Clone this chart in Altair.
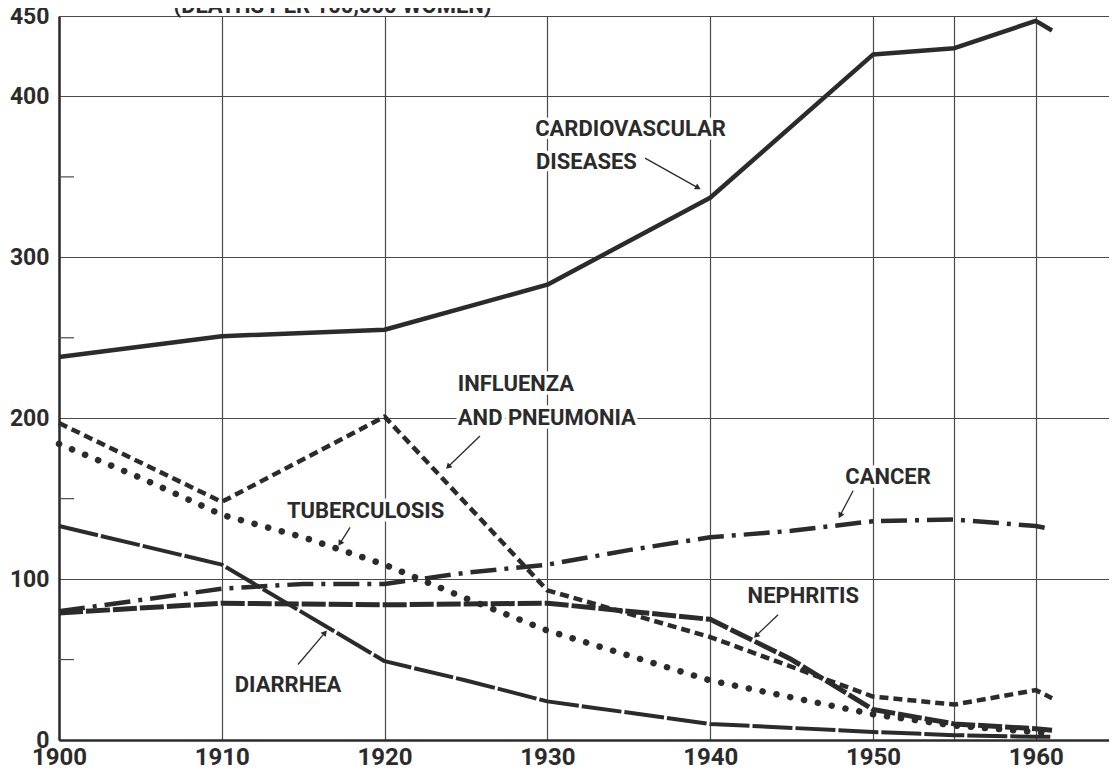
import math
import altair as alt
import pandas as pd

FONT = "Roboto, Liberation Sans, sans-serif"
INK = "#2b2b2b"
GRID = "#4a4a4a"

W, H = 1050, 724
X_DOMAIN = [1900, 1964.5]
Y_DOMAIN = [0, 450]

# ---- data (deaths per 100,000 women) ----
cardio_years = [1900, 1910, 1920, 1930, 1940, 1950, 1955, 1960, 1961]
cardio_vals = [238, 251, 255, 283, 337, 426, 430, 447, 441]

flu_years = [1900, 1910, 1920, 1930, 1940, 1950, 1955, 1960, 1961]
flu_vals = [197, 148, 201, 93, 64, 27, 22, 31, 26]

tb_years = [1900, 1905, 1910, 1915, 1920, 1925, 1930, 1940, 1950, 1955, 1960, 1961]
tb_vals = [184, 163, 140, 126, 109, 88, 68, 37, 16, 9, 5, 4]

diar_years = [1900, 1910, 1920, 1925, 1930, 1940, 1950, 1955, 1960, 1961]
diar_vals = [133, 109, 49, 37, 24, 10, 5, 3, 2, 2]

cancer_years = [1900, 1905, 1910, 1915, 1920, 1925, 1930, 1935, 1940, 1945, 1950, 1955, 1960, 1961]
cancer_vals = [80, 87, 94, 97, 97, 104, 109, 118, 126, 130, 136, 137, 133, 131]

neph_years = [1900, 1910, 1920, 1930, 1940, 1945, 1950, 1955, 1960, 1961]
neph_vals = [79, 85, 84, 85, 75, 50, 19, 10, 7, 6]

x_tick_values = [1900, 1910, 1920, 1930, 1940, 1950, 1955, 1960]
y_tick_values = [0, 100, 200, 300, 400, 450]
y_minor_values = [50, 150, 250, 350]

# annotation labels (anchor at left edge, vertical middle)
label_text = ["CARDIOVASCULAR", "DISEASES", "INFLUENZA", "AND PNEUMONIA",
              "TUBERCULOSIS", "DIARRHEA", "CANCER", "NEPHRITIS"]
label_year = [1929.25, 1929.3, 1924.5, 1924.5, 1914.0, 1910.8, 1948.3, 1942.3]
label_val = [379.5, 359.3, 221.0, 200.0, 142.6, 34.0, 163.6, 89.5]

# leader arrows: start -> end (arrowhead at end)
arrow_x1 = [1936.0, 1925.86, 1917.88, 1914.68, 1948.78, 1944.17]
arrow_y1 = [361.7, 188.9, 132.1, 46.9, 154.9, 77.8]
arrow_x2 = [1939.26, 1923.9, 1917.26, 1916.34, 1947.98, 1942.82]
arrow_y2 = [343.2, 169.8, 122.2, 66.7, 139.5, 64.8]

title_text = "(DEATHS PER 100,000 WOMEN)"

# ---- scales / axes ----
xscale = alt.Scale(domain=X_DOMAIN, nice=False, zero=False)
yscale = alt.Scale(domain=Y_DOMAIN, nice=False, zero=True)

x_axis = alt.Axis(values=x_tick_values, labelExpr="datum.value == 1955 ? '' : datum.label",
                  format="d", grid=True, gridColor=GRID, gridWidth=1.2, gridOpacity=1,
                  domain=True, domainColor=INK, domainWidth=2.5, ticks=False,
                  labelFont=FONT, labelFontSize=24, labelFontWeight="bold", labelColor=INK,
                  labelBaseline="alphabetic", labelPadding=24, labelFlush=False, title=None)
y_axis = alt.Axis(values=y_tick_values, format="d", grid=True, gridColor=GRID, gridWidth=1.2,
                  gridOpacity=1, domain=True, domainColor=INK, domainWidth=2.5, ticks=False,
                  labelFont=FONT, labelFontSize=23, labelFontWeight="bold", labelColor=INK,
                  labelPadding=10, labelFlush=False, title=None)


def X(field="year"):
    return alt.X(f"{field}:Q", scale=xscale, axis=x_axis)


def Y(field="value"):
    return alt.Y(f"{field}:Q", scale=yscale, axis=y_axis)


def series(years, vals, dash, width, cap="butt"):
    df = pd.DataFrame({"year": years, "value": vals})
    kw = dict(color=INK, strokeWidth=width, strokeCap=cap, strokeJoin="round", clip=False)
    if dash:
        kw["strokeDash"] = dash
    return alt.Chart(df).mark_line(**kw).encode(x=X(), y=Y())


minor = alt.Chart(pd.DataFrame({"value": y_minor_values})).mark_rule(
    color=GRID, strokeWidth=1.2).encode(
    y=Y(), x=alt.value(0), x2=alt.value(15))

lines = [
    series(cardio_years, cardio_vals, None, 4.5),
    series(flu_years, flu_vals, [9, 5], 4.5),
    series(tb_years, tb_vals, [0.1, 14], 6.5, cap="round"),
    series(diar_years, diar_vals, [40, 3], 4),
    series(cancer_years, cancer_vals, [26, 8, 4, 8], 4.5),
    series(neph_years, neph_vals, [24, 3], 5),
]

lab_df = pd.DataFrame({"label": label_text, "year": label_year, "value": label_val})
halo = alt.Chart(lab_df).mark_text(
    align="left", baseline="middle", font=FONT, fontSize=22, fontWeight="bold",
    color="white", stroke="white", strokeWidth=7, strokeJoin="round").encode(
    x=X(), y=Y(), text="label:N")
labels = alt.Chart(lab_df).mark_text(
    align="left", baseline="middle", font=FONT, fontSize=22, fontWeight="bold",
    color=INK).encode(x=X(), y=Y(), text="label:N")

angles = []
for a, b, c, d in zip(arrow_x1, arrow_y1, arrow_x2, arrow_y2):
    dx = (c - a) * W / (X_DOMAIN[1] - X_DOMAIN[0])
    dy = -(d - b) * H / (Y_DOMAIN[1] - Y_DOMAIN[0])
    angles.append(math.degrees(math.atan2(dx, -dy)) % 360)

arr_df = pd.DataFrame({"year": arrow_x1, "value": arrow_y1, "year2": arrow_x2,
                       "value2": arrow_y2, "angle": angles})
arrows = alt.Chart(arr_df).mark_rule(color=INK, strokeWidth=1.3).encode(
    x=X(), y=Y(), x2="year2:Q", y2="value2:Q")
heads = alt.Chart(arr_df).mark_point(shape="triangle-up", filled=True, color=INK,
                                     size=45, opacity=1).encode(
    x=X("year2"), y=Y("value2"), angle=alt.Angle("angle:Q", scale=None))

title = alt.Chart(pd.DataFrame({"t": [title_text], "year": [1916.8], "value": [451.9]})).mark_text(
    align="center", baseline="alphabetic", font=FONT, fontSize=22, fontWeight="bold",
    color=INK).encode(x=X(), y=Y(), text="t:N")

chart = alt.layer(minor, halo, labels, *lines, arrows, heads, title).properties(
    width=W, height=H,
    autosize=alt.AutoSizeParams(type="none"),
    padding={"left": 51, "top": 8, "right": 0, "bottom": 30},
    background="white",
).configure_view(stroke=None)

chart.save("out.html", embed_options={"renderer": "svg", "actions": False})
